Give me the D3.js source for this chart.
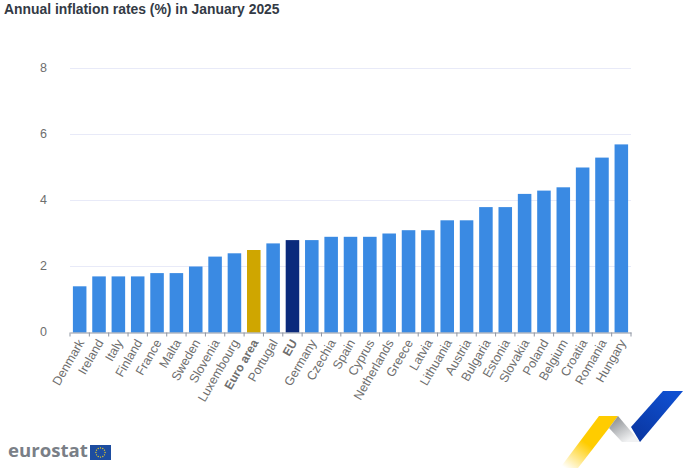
<!DOCTYPE html>
<html>
<head>
<meta charset="utf-8">
<title>Annual inflation rates</title>
<script src="https://cdn.jsdelivr.net/npm/d3@7"></script>
<style>
  html, body { margin: 0; padding: 0; background: #fff; }
  svg { display: block; font-family: "Liberation Sans", Arial, sans-serif; }
</style>
</head>
<body>
<div id="chart"></div>
<script>
const countries = ["Denmark", "Ireland", "Italy", "Finland", "France", "Malta", "Sweden", "Slovenia", "Luxembourg", "Euro area", "Portugal", "EU", "Germany", "Czechia", "Spain", "Cyprus", "Netherlands", "Greece", "Latvia", "Lithuania", "Austria", "Bulgaria", "Estonia", "Slovakia", "Poland", "Belgium", "Croatia", "Romania", "Hungary"];
const rates = [1.4, 1.7, 1.7, 1.7, 1.8, 1.8, 2.0, 2.3, 2.4, 2.5, 2.7, 2.8, 2.8, 2.9, 2.9, 2.9, 3.0, 3.1, 3.1, 3.4, 3.4, 3.8, 3.8, 4.2, 4.3, 4.4, 5.0, 5.3, 5.7];
const yTicks = [0, 2, 4, 6, 8];
const barColors = { "Euro area": "#cfa600", "EU": "#0b2a7c" };

const width = 700, height = 468;
const svg = d3.select("#chart").append("svg")
    .attr("width", width)
    .attr("height", height);

const xScale = d3.scaleBand()
    .domain(countries)
    .range([70, 631])
    .paddingInner(0.3)
    .paddingOuter(0.15);

const yScale = d3.scaleLinear()
    .domain([0, 8])
    .range([332.5, 68.5]);

// titre
svg.append("text")
    .attr("x", 4)
    .attr("y", 14)
    .attr("font-size", 13.9)
    .attr("font-weight", "bold")
    .attr("fill", "#333a45")
    .text("Annual inflation rates (%) in January 2025");

// grille et axe y
svg.selectAll(".grid")
    .data(yTicks.filter(d => d > 0))
    .enter()
    .append("line")
    .attr("x1", 70)
    .attr("x2", 631)
    .attr("y1", d => yScale(d))
    .attr("y2", d => yScale(d))
    .attr("stroke", "#e8eaf8")
    .attr("stroke-width", 1);

svg.selectAll(".ytick")
    .data(yTicks)
    .enter()
    .append("text")
    .attr("x", 47)
    .attr("y", d => yScale(d) + 3)
    .attr("text-anchor", "end")
    .attr("font-size", 12.5)
    .attr("fill", "#6e6e6e")
    .text(d => d);

// barres
svg.selectAll(".bar")
    .data(countries)
    .enter()
    .append("rect")
    .attr("x", d => xScale(d))
    .attr("y", (d, i) => yScale(rates[i]))
    .attr("width", xScale.bandwidth())
    .attr("height", (d, i) => yScale(0) - yScale(rates[i]))
    .attr("fill", d => barColors[d] || "#3a8ae3");

// axe x
const step = xScale.step();
const xAxis = d3.axisBottom(xScale).tickSizeOuter(0).tickSize(0);
const gx = svg.append("g")
    .attr("transform", `translate(0,${yScale(0)})`)
    .call(xAxis);
gx.select(".domain").attr("stroke", "#8f96a3");
gx.selectAll(".tick line").remove();
gx.selectAll(".tick text")
    .attr("font-family", "Liberation Sans, Arial, sans-serif")
    .attr("font-size", d => barColors[d] ? 12 : 12.5)
    .attr("fill", "#6e6e6e")
    .attr("font-weight", d => barColors[d] ? "bold" : "normal")
    .attr("text-anchor", "end")
    .attr("dy", 0)
    .attr("transform", "translate(5,10) rotate(-60)")
    .attr("x", 0)
    .attr("y", 0);

svg.selectAll(".xtick")
    .data(d3.range(countries.length + 1))
    .enter()
    .append("line")
    .attr("x1", i => 70 + i * step)
    .attr("x2", i => 70 + i * step)
    .attr("y1", yScale(0))
    .attr("y2", yScale(0) + 4)
    .attr("stroke", "#8f96a3");

// logo eurostat
svg.append("text")
    .attr("x", 8)
    .attr("y", 457)
    .attr("font-size", 18.6)
    .attr("font-family", "Open Sans, sans-serif")
    .attr("font-weight", 700)
    .attr("fill", "#7a7f87")
    .text("eurostat");

svg.append("rect")
    .attr("x", 90)
    .attr("y", 445)
    .attr("width", 21)
    .attr("height", 15)
    .attr("fill", "#1d4da0");

svg.selectAll(".star")
    .data(d3.range(12))
    .enter()
    .append("circle")
    .attr("cx", i => 100.5 + 4.6 * Math.cos(i * Math.PI / 6))
    .attr("cy", i => 452.5 + 4.6 * Math.sin(i * Math.PI / 6))
    .attr("r", 0.65)
    .attr("fill", "#f3d21f");

// ruban
const defs = svg.append("defs");
const grad = (id, x1, y1, x2, y2, stops) => {
    const g = defs.append("linearGradient").attr("id", id)
        .attr("gradientUnits", "userSpaceOnUse")
        .attr("x1", x1).attr("y1", y1).attr("x2", x2).attr("y2", y2);
    stops.forEach(s => g.append("stop").attr("offset", s[0]).attr("stop-color", s[1]).attr("stop-opacity", s[2]));
};
grad("gy", 600, 420, 565, 468, [[0, "#ffcc00", 1], [0.45, "#ffcc00", 1], [1, "#ffcc00", 0]]);
grad("gg", 612, 420, 626, 442, [[0, "#8f9296", 1], [1, "#f1f2f3", 1]]);
grad("gb", 670, 392, 635, 440, [[0, "#0f4fd0", 1], [1, "#0a36a0", 1]]);

svg.append("polygon").attr("points", "599,416 618,416 609,428 578,468 560,468").attr("fill", "url(#gy)");
svg.append("polygon").attr("points", "618,416 640,442 622,442 609,428").attr("fill", "url(#gg)");
svg.append("polygon").attr("points", "663,391 683,391 640,442 631,427").attr("fill", "url(#gb)");
</script>
</body>
</html>
